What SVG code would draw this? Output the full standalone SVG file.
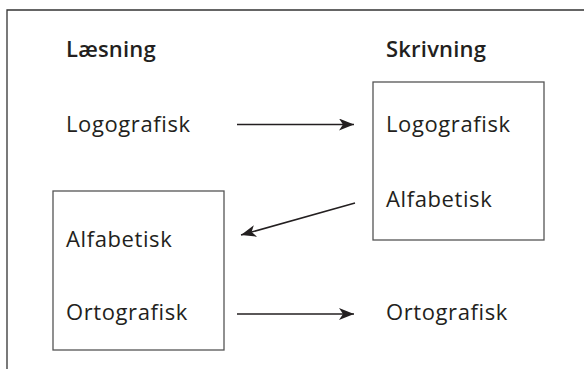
<svg xmlns="http://www.w3.org/2000/svg" width="584" height="369" viewBox="0 0 584 369">
<style>
text{font-family:"Open Sans","Noto Sans",sans-serif;font-size:22px;fill:#231f20;letter-spacing:0.6px}
.h{font-weight:600;letter-spacing:0.2px}
.box{fill:none;stroke:#555;stroke-width:1.3}
.frame{fill:none;stroke:#333;stroke-width:1.3}
.c{stroke:#231f20;stroke-width:1.5;fill:none}
</style>
<defs>
<marker id="ah" markerWidth="16" markerHeight="12" refX="15" refY="6" orient="auto" markerUnits="userSpaceOnUse">
<path d="M0,0 L15,6 L0,12 L4,6 Z" fill="#231f20"/>
</marker>
</defs>
<path class="frame" d="M7,369 V10 H584"/>
<g id="laesning"><text class="h" x="66" y="57">Læsning</text></g>
<g id="skrivning"><text class="h" x="386" y="57">Skrivning</text></g>
<g id="l-logo"><text x="66" y="132">Logografisk</text></g>
<g id="r-box">
<rect class="box" x="373" y="82" width="171" height="158"/>
<text x="386" y="132">Logografisk</text>
<text x="386" y="207">Alfabetisk</text>
</g>
<g id="l-box">
<rect class="box" x="53" y="191" width="171" height="159"/>
<text x="66" y="247">Alfabetisk</text>
<text x="66" y="320">Ortografisk</text>
</g>
<g id="r-orto"><text x="386" y="320">Ortografisk</text></g>
<g id="connectors">
<line class="c" x1="237" y1="124.5" x2="354" y2="124.5" marker-end="url(#ah)"/>
<line class="c" x1="355" y1="203" x2="241" y2="235" marker-end="url(#ah)"/>
<line class="c" x1="237" y1="314" x2="354" y2="314" marker-end="url(#ah)"/>
</g>
</svg>
